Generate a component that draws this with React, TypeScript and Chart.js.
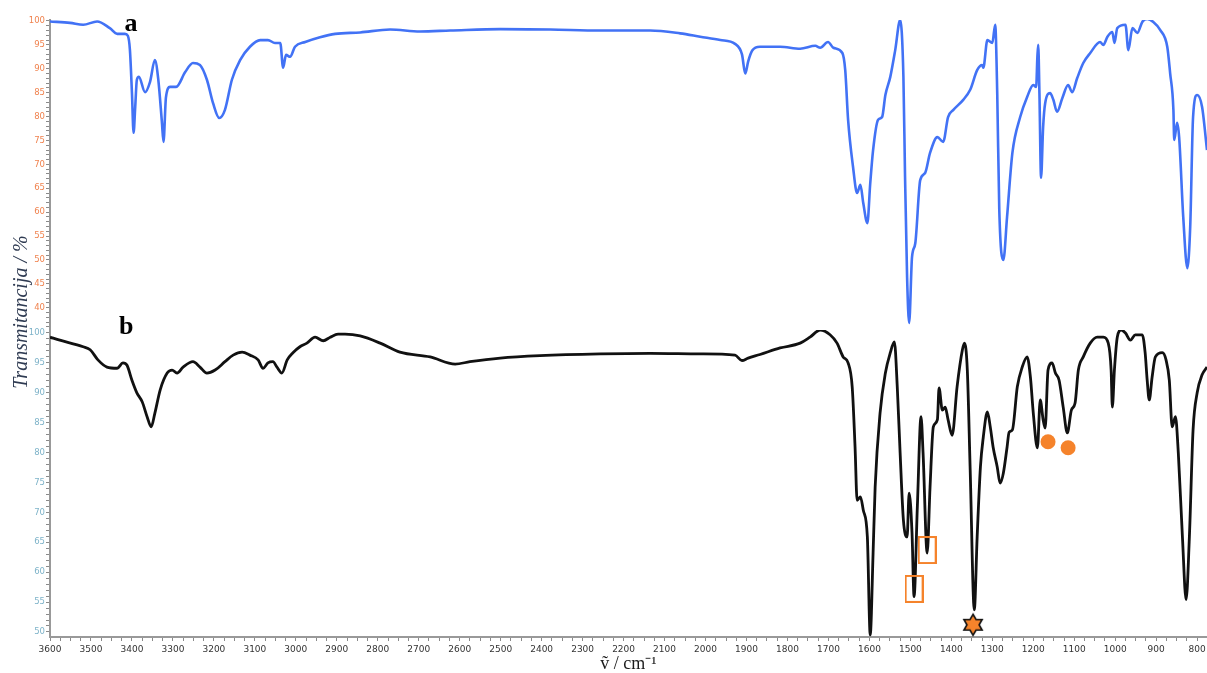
import React, { useEffect, useRef } from 'react';
import Chart from 'chart.js/auto';

// ---- Data (wavenumber / cm-1, transmittance / %) ----
const topWn = [3600,3551,3519,3485,3454,3436,3417,3410,3405,3400,3396,3392,3388,3383,3368,3356,3344,3336,3327,3323,3317,3307,3292,3270,3251,3234,3217,3202,3187,3173,3156,3136,3112,3087,3068,3051,3038,3031,3024,3014,3002,2977,2941,2904,2843,2770,2697,2623,2501,2379,2257,2135,2062,2013,1964,1928,1911,1903,1896,1886,1867,1818,1769,1732,1720,1701,1688,1666,1659,1652,1640,1630,1622,1615,1605,1598,1591,1579,1569,1561,1549,1537,1525,1517,1513,1508,1503,1496,1488,1476,1464,1452,1434,1420,1408,1395,1371,1354,1337,1325,1322,1312,1300,1293,1288,1283,1273,1264,1251,1232,1215,1200,1193,1190,1188,1185,1181,1176,1171,1159,1151,1142,1129,1115,1105,1093,1078,1061,1037,1029,1019,1007,1002,995,975,968,958,946,934,922,907,890,873,866,858,856,849,844,834,824,817,810,800,788,776];
const topT = [99.9,99.6,99.2,99.9,98.5,97.3,97.3,96.9,94.0,85.0,76.6,82.0,87.7,88.3,85.1,87.2,91.8,88.0,79.0,74.7,84.0,86.2,86.2,89.3,91.2,90.8,87.7,82.8,79.7,81.4,87.7,91.8,94.6,96.0,96.0,95.4,95.4,90.2,92.9,92.5,94.6,95.6,96.6,97.3,97.6,98.2,97.8,98.0,98.3,98.2,98.0,98.0,97.4,96.7,96.0,95.2,93.0,89.0,91.5,93.8,94.6,94.6,94.2,94.8,94.4,95.6,94.4,93.3,89.7,79.3,69.5,64.0,65.7,61.9,57.7,66.0,73.0,79.3,79.9,84.5,88.3,93.9,100.2,88.3,67.4,46.4,36.8,50.6,53.5,66.7,68.2,72.4,75.7,74.7,79.9,81.4,83.5,85.6,89.7,90.8,90.2,96.0,95.4,99.2,84.9,60.5,50.0,59.0,72.4,79.9,84.1,86.6,86.2,92.5,95.0,84.9,67.2,77.8,82.8,84.9,83.5,81.0,83.9,86.6,85.1,88.0,91.2,93.3,95.6,95.0,96.7,97.7,95.4,98.5,99.2,93.9,98.5,97.5,99.8,100.4,99.8,98.1,94.6,89.1,81.4,75.1,78.7,75.7,59.0,48.3,56.9,79.9,84.5,82.0,73.0];

const botWn = [3600,3576,3519,3502,3483,3461,3436,3422,3412,3400,3388,3375,3363,3353,3344,3331,3314,3302,3290,3275,3251,3234,3217,3197,3173,3153,3131,3112,3092,3080,3068,3056,3046,3034,3021,3007,2990,2973,2953,2933,2916,2897,2880,2843,2794,2746,2672,2611,2575,2501,2404,2257,2135,2013,1928,1911,1896,1867,1818,1769,1745,1720,1696,1679,1664,1652,1642,1635,1630,1622,1615,1605,1598,1591,1586,1574,1561,1549,1539,1532,1525,1517,1508,1503,1496,1491,1483,1474,1469,1459,1452,1444,1434,1430,1422,1415,1408,1398,1386,1373,1368,1361,1354,1344,1337,1329,1322,1312,1305,1298,1288,1281,1273,1264,1259,1251,1239,1227,1215,1207,1200,1190,1183,1176,1171,1164,1154,1146,1137,1127,1117,1107,1098,1090,1078,1061,1044,1029,1017,1010,1007,1002,995,985,975,963,951,934,927,922,917,910,902,885,876,868,861,853,846,836,827,819,810,800,788,776];
const botT = [99.3,98.8,97.7,97.2,95.5,94.3,94.1,95.0,94.6,92.1,90.0,88.5,86.0,84.3,86.6,90.5,93.3,93.8,93.3,94.3,95.2,94.3,93.3,93.8,95.2,96.3,96.8,96.3,95.5,94.1,95.0,95.2,94.3,93.3,95.5,96.7,97.7,98.3,99.3,98.7,99.3,99.8,99.8,99.5,98.3,96.8,96.0,94.8,95.2,95.8,96.2,96.5,96.6,96.5,96.3,95.4,95.8,96.4,97.5,98.3,99.3,100.5,99.7,98.3,96.0,95.0,91.0,80.9,72.0,72.6,70.4,65.9,49.5,63.2,74.2,86.6,93.3,96.7,98.5,91.0,79.9,68.7,65.9,73.2,66.6,55.9,70.9,86.0,79.9,63.2,74.2,84.3,85.5,90.8,87.1,87.6,85.5,82.9,91.0,97.2,98.3,93.8,77.1,53.7,65.9,77.6,82.6,86.8,84.3,80.9,77.6,74.9,76.6,80.9,83.4,83.8,91.0,94.3,96.0,92.6,86.6,80.8,88.8,85.5,84.1,93.8,95.0,93.3,92.1,87.6,83.3,87.1,88.3,93.8,96.0,98.3,99.3,99.3,98.3,93.8,87.6,93.8,99.3,100.5,100.0,98.8,99.7,99.7,96.7,92.1,88.8,92.6,96.0,96.7,95.5,92.1,84.3,86.0,79.9,65.9,55.4,65.9,83.8,90.0,93.0,94.3];

// Axis range
const xMin = 776;
const xMax = 3600;

// Markers on spectrum b
const boxWn = [1491, 1459];
const boxT = [57.2, 63.7];
const dotWn = [1164, 1115];
const dotT = [81.8, 80.8];
const starWn = [1347];
const starT = [51.2];

// Panel labels
const panelNames = ['a', 'b'];
const panelWn = [3402, 3414];
const panelT = [99.2, 101.0];

const xTitle = 'ṽ / cm⁻¹';
const yTitle = 'Transmitancija / %';

const ORANGE = '#f5832b';

function pts(xs: number[], ys: number[]) {
  return xs.map((x, i) => ({ x, y: ys[i] }));
}

function makeBox(): HTMLCanvasElement {
  const c = document.createElement('canvas');
  c.width = 19; c.height = 28;
  const g = c.getContext('2d')!;
  g.strokeStyle = ORANGE; g.lineWidth = 2;
  g.strokeRect(1, 1, 17, 26);
  return c;
}

function makeStar(): HTMLCanvasElement {
  const c = document.createElement('canvas');
  c.width = 26; c.height = 26;
  const g = c.getContext('2d')!;
  const R = 10.5, r = R / Math.sqrt(3);
  g.beginPath();
  for (let k = 0; k < 12; k++) {
    const ang = (-90 + k * 30) * Math.PI / 180;
    const rad = k % 2 === 0 ? R : r;
    const px = 13 + rad * Math.cos(ang), py = 13 + rad * Math.sin(ang);
    if (k === 0) g.moveTo(px, py); else g.lineTo(px, py);
  }
  g.closePath();
  g.fillStyle = ORANGE; g.fill();
  g.strokeStyle = '#111'; g.lineWidth = 1.6; g.lineJoin = 'miter'; g.stroke();
  return c;
}

const textPlugin = {
  id: 'extraText',
  afterDraw(chart: any) {
    const ctx = chart.ctx;
    const xs = chart.scales.x;
    const axes = [chart.scales.yTop, chart.scales.yBot];
    ctx.save();
    ctx.font = 'bold 26px "Liberation Serif"';
    ctx.fillStyle = '#000';
    ctx.textAlign = 'center';
    ctx.textBaseline = 'middle';
    panelNames.forEach((n, i) => {
      ctx.fillText(n, xs.getPixelForValue(panelWn[i]), axes[i].getPixelForValue(panelT[i]));
    });
    ctx.translate(22, 312);
    ctx.rotate(-Math.PI / 2);
    ctx.font = 'italic 20px "Liberation Serif"';
    ctx.fillStyle = '#2f3b52';
    ctx.fillText(yTitle, 0, 0);
    ctx.restore();
  },
};

export default function App() {
  const ref = useRef<HTMLCanvasElement>(null);
  useEffect(() => {
    if (!ref.current) return;
    const lbl = (v: any) => (Math.abs(Number(v) % 5) < 1e-6 ? String(Math.round(Number(v))) : '');
    const yCommon = (color: string) => ({
      type: 'linear' as const,
      position: 'left' as const,
      stack: 'y',
      grid: { drawOnChartArea: false, tickLength: 4, color: '#8a8a8a' },
      border: { color: '#999', width: 2 },
      ticks: {
        stepSize: 1,
        autoSkip: false,
        includeBounds: false,
        padding: 1,
        color,
        font: { family: 'DejaVu Sans', size: 8.5 },
        callback: lbl,
      },
      afterFit: (s: any) => { s.width = 50; s.paddingTop = 0; s.paddingBottom = 0; },
    });
    const chart = new Chart(ref.current, {
      type: 'line',
      data: {
        datasets: [
          {
            data: pts(boxWn, boxT), yAxisID: 'yBot', showLine: false,
            pointStyle: makeBox(), pointRadius: 8, order: 0,
          },
          {
            data: pts(dotWn, dotT), yAxisID: 'yBot', showLine: false,
            pointStyle: 'circle', pointRadius: 7.5, backgroundColor: ORANGE, borderWidth: 0, order: 0,
          },
          {
            data: pts(starWn, starT), yAxisID: 'yBot', showLine: false,
            pointStyle: makeStar(), pointRadius: 8, order: 0,
          },
          {
            data: pts(topWn, topT), yAxisID: 'yTop', borderColor: '#4272f5', borderWidth: 2.6,
            pointRadius: 0, cubicInterpolationMode: 'monotone', order: 1,
          },
          {
            data: pts(botWn, botT), yAxisID: 'yBot', borderColor: '#111', borderWidth: 2.8,
            pointRadius: 0, cubicInterpolationMode: 'monotone', order: 2,
          },
        ] as any,
      },
      options: {
        animation: false,
        responsive: false,
        layout: { autoPadding: false, padding: { top: 20, left: 0, right: 0, bottom: 0 } },
        plugins: { legend: { display: false }, tooltip: { enabled: false } },
        scales: {
          x: {
            type: 'linear',
            reverse: true,
            min: xMin,
            max: xMax,
            grid: { drawOnChartArea: false, tickLength: 4, color: '#8a8a8a' },
            border: { color: '#999', width: 2 },
            ticks: {
              stepSize: 25,
              autoSkip: false,
              includeBounds: false,
              maxRotation: 0,
              padding: 3,
              color: '#333',
              font: { family: 'DejaVu Sans', size: 9 },
              callback: (v: any) => (Math.abs(Number(v) % 100) < 1e-6 ? String(Math.round(Number(v))) : ''),
            },
            title: {
              display: true,
              text: xTitle,
              color: '#1a1a1a',
              font: { family: 'Liberation Serif', size: 18, lineHeight: 1 },
              padding: { top: 0, bottom: 0 },
            },
            afterFit: (s: any) => { s.height = 36; s.paddingLeft = 0; s.paddingRight = 0; },
          },
          yTop: { ...yCommon('#f0834f'), min: 35.35, max: 100.2, stackWeight: 310, weight: 2 },
          yBot: { ...yCommon('#7eb3c9'), min: 49.16, max: 100.5, stackWeight: 307, weight: 1 },
        } as any,
      },
      plugins: [textPlugin],
    });
    return () => chart.destroy();
  }, []);
  return (
    <div style={{ position: 'absolute', left: 0, top: 0, width: 1207, height: 673, background: '#fff' }}>
      <canvas ref={ref} width={1207} height={673} style={{ display: 'block' }} />
    </div>
  );
}
